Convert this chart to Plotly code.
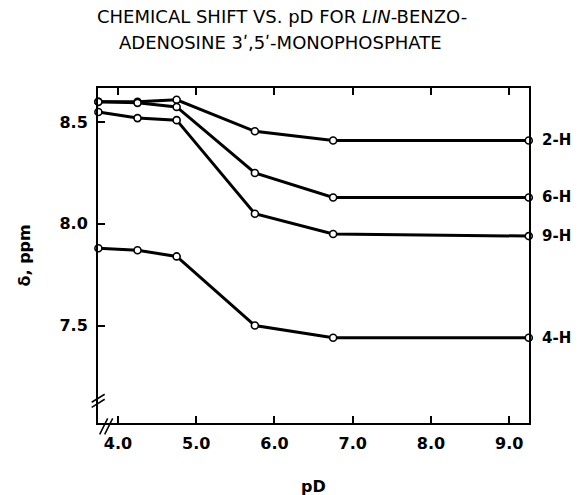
import plotly.graph_objects as go

# ---- data ----
pD = [3.75, 4.25, 4.75, 5.75, 6.75, 9.25]
shift_2H = [8.60, 8.60, 8.61, 8.455, 8.41, 8.41]
shift_6H = [8.60, 8.595, 8.575, 8.25, 8.13, 8.13]
shift_9H = [8.55, 8.52, 8.51, 8.05, 7.95, 7.94]
shift_4H = [7.88, 7.87, 7.84, 7.50, 7.44, 7.44]
series_names = ["2-H", "6-H", "9-H", "4-H"]
series_vals = [shift_2H, shift_6H, shift_9H, shift_4H]
x_ticks = [4.0, 5.0, 6.0, 7.0, 8.0, 9.0]
y_ticks = [7.5, 8.0, 8.5]

FONT = "DejaVu Sans"

fig = go.Figure()
for name, vals in zip(series_names, series_vals):
    fig.add_trace(go.Scatter(
        x=pD, y=vals, mode="lines", name=name,
        line=dict(color="black", width=3), showlegend=False,
        cliponaxis=False))
for name, vals in zip(series_names, series_vals):
    fig.add_trace(go.Scatter(
        x=pD, y=vals, mode="markers", name=name,
        marker=dict(symbol="circle", size=7, color="white",
                    line=dict(color="black", width=1.6)),
        showlegend=False, cliponaxis=False))
    fig.add_annotation(x=pD[-1], y=vals[-1], text=f"<b>{name}</b>",
                       xanchor="left", yanchor="middle", xshift=11,
                       showarrow=False,
                       font=dict(family=FONT, size=15, color="black"))

# title lines
fig.add_annotation(xref="paper", yref="paper", x=0.427, y=1.212,
                   text="CHEMICAL SHIFT VS. pD FOR <i>LIN</i>-BENZO-",
                   showarrow=False, xanchor="center", yanchor="middle",
                   font=dict(family=FONT, size=18, color="black"))
fig.add_annotation(xref="paper", yref="paper", x=0.423, y=1.137,
                   text="ADENOSINE 3\u02b9,5\u02b9-MONOPHOSPHATE",
                   showarrow=False, xanchor="center", yanchor="middle",
                   font=dict(family=FONT, size=18, color="black"))
# y axis title
fig.add_annotation(xref="paper", yref="paper", x=0, y=0.50, xshift=-74,
                   text="<b>\u03b4, ppm</b>", textangle=-90, showarrow=False,
                   xanchor="center", yanchor="middle",
                   font=dict(family=FONT, size=16, color="black"))
# x axis title
fig.add_annotation(xref="paper", yref="paper", x=0.5, y=-0.19,
                   text="<b>pD</b>", showarrow=False,
                   xanchor="center", yanchor="middle",
                   font=dict(family=FONT, size=16, color="black"))

# axis break marks
W, H, L, B = 431.0, 334.4, 98.3, 422.7
def px(xp, yp):
    return (xp - L) / W, (B - yp) / H
for (x0, y0, x1, y1) in [(92, 402, 105, 394), (92, 407, 105, 399),
                         (100, 434, 108, 418), (105, 434, 113, 418)]:
    a, b = px(x0, y0)
    c, d = px(x1, y1)
    fig.add_shape(type="line", xref="paper", yref="paper",
                  x0=a, y0=b, x1=c, y1=d,
                  line=dict(color="black", width=1.5))

fig.update_layout(
    width=580, height=495,
    margin=dict(l=98, r=51, t=88, b=72, autoexpand=False),
    paper_bgcolor="white", plot_bgcolor="white",
    font=dict(family=FONT, color="black"),
    xaxis=dict(range=[3.745, 9.253], tickvals=x_ticks,
               ticktext=[f"{v:.1f}" for v in x_ticks],
               ticks="inside", ticklen=7, tickwidth=1.5, tickcolor="black",
               showline=True, linecolor="black", linewidth=2,
               mirror="ticks", showgrid=False, zeroline=False,
               ticklabelstandoff=5, automargin=False,
               tickfont=dict(family=FONT, size=16, color="black", weight="bold")),
    yaxis=dict(range=[7.021, 8.668], tickvals=y_ticks,
               ticktext=[f"{v:.1f}" for v in y_ticks],
               ticks="inside", ticklen=7, tickwidth=1.5, tickcolor="black",
               showline=True, linecolor="black", linewidth=2,
               mirror=True, showgrid=False, zeroline=False,
               ticklabelstandoff=5, automargin=False,
               tickfont=dict(family=FONT, size=16, color="black", weight="bold")),
)

fig.write_html("out.html",
               config={"displayModeBar": False},
               post_script="document.body.style.margin='0';document.body.style.overflow='hidden';")
